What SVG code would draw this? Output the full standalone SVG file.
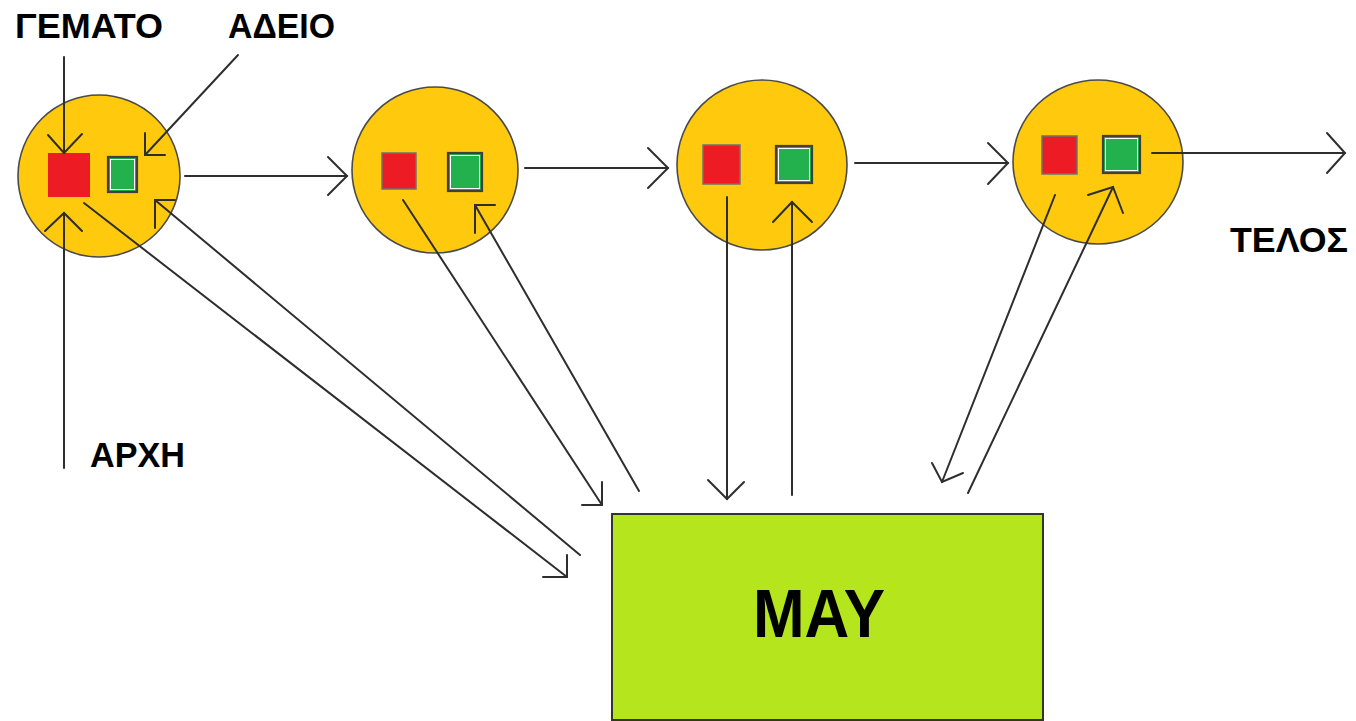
<svg xmlns="http://www.w3.org/2000/svg" width="1356" height="721" viewBox="0 0 1356 721">
<style>
.bg{fill:#ffffff}
.stage{fill:#ffc90e;stroke:#4a4a4a;stroke-width:1.6}
.full{fill:#ed1c24;stroke:#707070;stroke-width:1.5}
.empty{fill:#22b14c;stroke:#404040;stroke-width:2.2}
.inner{fill:none;stroke:#ffffff;stroke-width:1}
.mem{fill:#b5e61d;stroke:#333333;stroke-width:2}
.lbl{font-family:"Liberation Sans",Arial,sans-serif;font-weight:bold;font-size:35px;fill:#000}
.big{font-family:"Liberation Sans",Arial,sans-serif;font-weight:bold;font-size:68px;fill:#000}
.conn{fill:none;stroke:#2e2e2e;stroke-width:2;stroke-linecap:round;stroke-linejoin:miter}
</style>
<rect class="bg" x="0" y="0" width="1356" height="721"/>

<g id="stage1">
  <circle class="stage" cx="99" cy="176" r="81"/>
  <rect class="full" x="48" y="153" width="42" height="44" style="stroke:none"/>
  <rect class="empty" x="108" y="157" width="29" height="35"/>
  <rect class="inner" x="110.5" y="159.5" width="24" height="30"/>
</g>
<g id="stage2">
  <circle class="stage" cx="435" cy="170" r="83"/>
  <rect class="full" x="382" y="153" width="34" height="36"/>
  <rect class="empty" x="448" y="153" width="34" height="38"/>
  <rect class="inner" x="450.5" y="155.5" width="29" height="33"/>
</g>
<g id="stage3">
  <circle class="stage" cx="762" cy="165" r="85"/>
  <rect class="full" x="703" y="145" width="37" height="39"/>
  <rect class="empty" x="776" y="146" width="36" height="37"/>
  <rect class="inner" x="778.5" y="148.5" width="31" height="32"/>
</g>
<g id="stage4">
  <ellipse class="stage" cx="1098" cy="162" rx="85" ry="82"/>
  <rect class="full" x="1042" y="136" width="35" height="38"/>
  <rect class="empty" x="1103" y="136" width="37" height="37"/>
  <rect class="inner" x="1105.5" y="138.5" width="32" height="32"/>
</g>
<g id="memory">
  <rect class="mem" x="612" y="514" width="431" height="206"/>
  <text class="big" x="819" y="637" text-anchor="middle" textLength="132" lengthAdjust="spacingAndGlyphs">MAY</text>
</g>
<g id="label-full"><text class="lbl" x="15" y="38" textLength="148" lengthAdjust="spacingAndGlyphs">ΓΕΜΑΤΟ</text></g>
<g id="label-empty"><text class="lbl" x="228" y="38" textLength="107" lengthAdjust="spacingAndGlyphs">ΑΔΕΙΟ</text></g>
<g id="label-start"><text class="lbl" x="90" y="467" textLength="95" lengthAdjust="spacingAndGlyphs">ΑΡΧΗ</text></g>
<g id="label-end"><text class="lbl" x="1230" y="252" textLength="118" lengthAdjust="spacingAndGlyphs">ΤΕΛΟΣ</text></g>

<g id="connectors">
  <!-- pointers into first stage -->
  <line class="conn" x1="64" y1="57" x2="64" y2="153"/>
  <polyline class="conn" points="48,135 64,153 82,134"/>
  <line class="conn" x1="64" y1="468" x2="64" y2="213"/>
  <polyline class="conn" points="45,231 64,213 82,231"/>
  <line class="conn" x1="238" y1="55" x2="145" y2="155"/>
  <polyline class="conn" points="145,133 145,155 165,155"/>
  <!-- stage to stage -->
  <line class="conn" x1="185" y1="176" x2="347" y2="176"/>
  <polyline class="conn" points="328,157 347,176 328,195"/>
  <line class="conn" x1="525" y1="168" x2="668" y2="168"/>
  <polyline class="conn" points="648,148 668,168 648,188"/>
  <line class="conn" x1="855" y1="163" x2="1008" y2="163"/>
  <polyline class="conn" points="988,143 1008,163 988,184"/>
  <line class="conn" x1="1152" y1="153" x2="1345" y2="153"/>
  <polyline class="conn" points="1327,133 1345,153 1327,173"/>
  <!-- stage 1 <-> memory -->
  <line class="conn" x1="84" y1="203" x2="567" y2="577"/>
  <polyline class="conn" points="567,555 567,577 543,577"/>
  <line class="conn" x1="580" y1="555" x2="155" y2="200"/>
  <polyline class="conn" points="175,200 155,200 155,228"/>
  <!-- stage 2 <-> memory -->
  <line class="conn" x1="403" y1="200" x2="602" y2="505"/>
  <polyline class="conn" points="602,482 602,505 582,505"/>
  <line class="conn" x1="639" y1="491" x2="475" y2="205"/>
  <polyline class="conn" points="495,205 475,205 475,233"/>
  <!-- stage 3 <-> memory -->
  <line class="conn" x1="727" y1="197" x2="727" y2="499"/>
  <polyline class="conn" points="708,480 727,499 744,482"/>
  <line class="conn" x1="792" y1="495" x2="792" y2="202"/>
  <polyline class="conn" points="773,222 792,202 812,222"/>
  <!-- stage 4 <-> memory -->
  <line class="conn" x1="1055" y1="195" x2="942" y2="482"/>
  <polyline class="conn" points="932,463 942,482 963,473"/>
  <line class="conn" x1="968" y1="493" x2="1113" y2="187"/>
  <polyline class="conn" points="1088,195 1113,187 1123,213"/>
</g>
</svg>
